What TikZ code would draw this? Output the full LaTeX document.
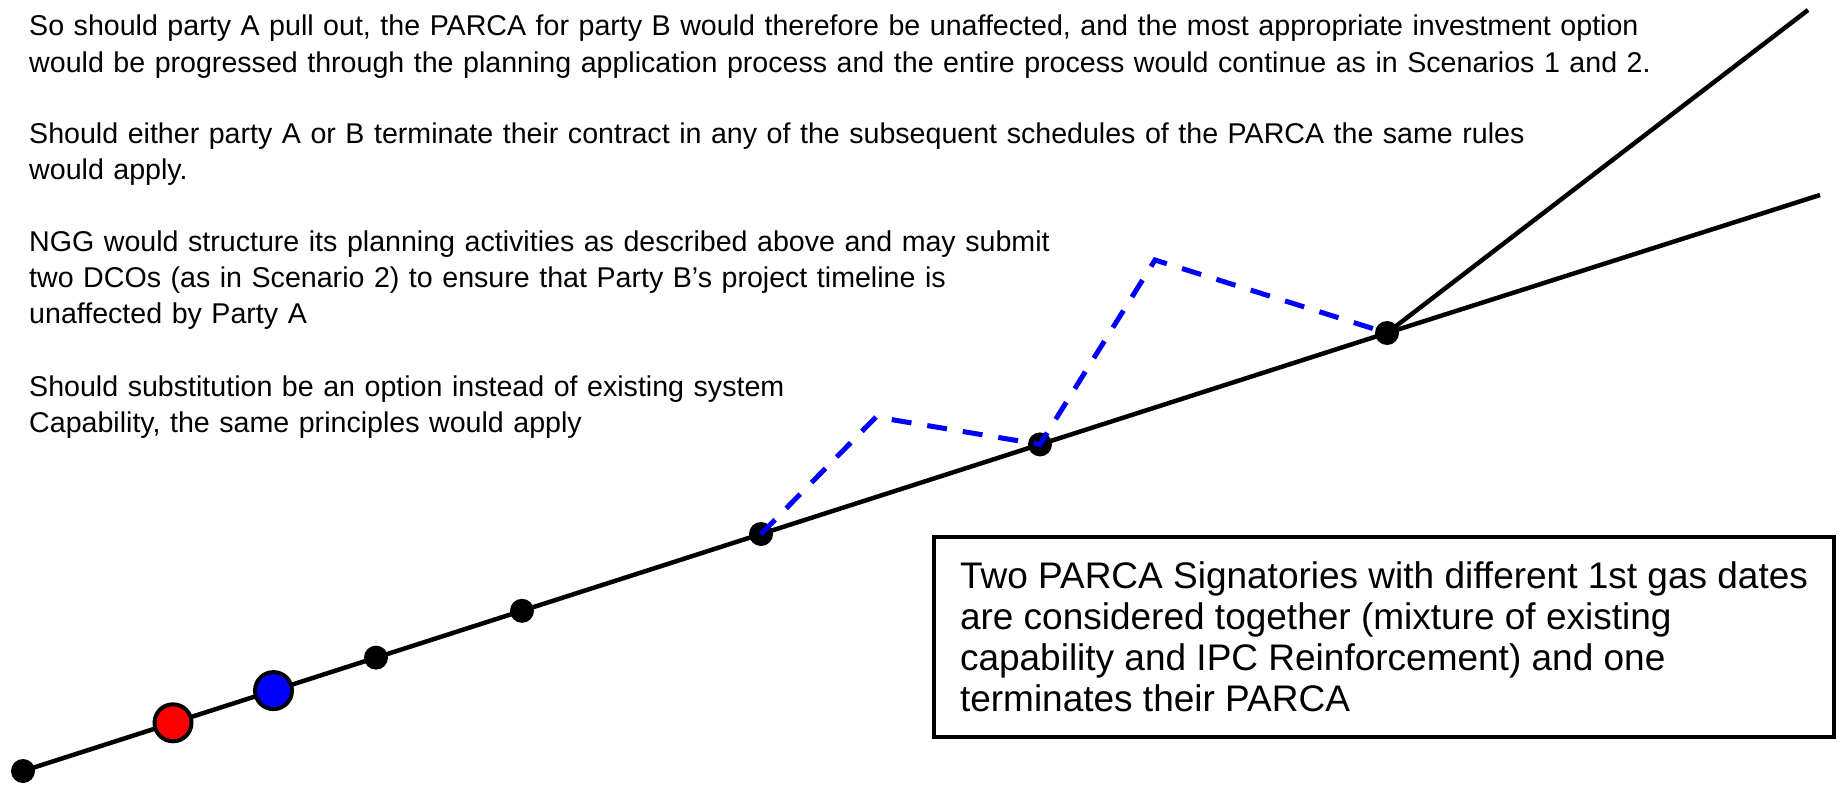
\documentclass[tikz,border=0pt]{standalone}
\usepackage{fontspec}
\setmainfont{Liberation Sans}
\usetikzlibrary{backgrounds}
\begin{document}
\begin{tikzpicture}[x=1pt,y=-1pt,
  milestone/.style={circle, fill=black, inner sep=0pt, minimum size=24pt},
  keydate/.style={circle, draw=black, line width=4pt, inner sep=0pt, minimum size=37pt},
  track/.style={line width=4.5pt},
  reroute/.style={blue, line width=5pt, dash pattern=on 20pt off 16pt, line join=miter},
  notes/.style={anchor=base west, inner sep=0pt, text width=1750pt, align=left,
    font=\fontsize{28.6}{36}\selectfont},
  notebox/.style={draw=black, line width=4pt, minimum width=900pt, minimum height=200pt,
    inner xsep=0pt, align=left, font=\fontsize{37}{41}\selectfont},
]
\useasboundingbox (0,0) rectangle (1843,784);

% timeline milestones
\node[milestone] (d0) at (23,771) {};
\node[keydate, fill=red] (ka) at (173,722.8) {};
\node[keydate, fill=blue] (kb) at (273.5,690.6) {};
\node[milestone] (d1) at (376,657.6) {};
\node[milestone] (d2) at (522,610.8) {};
\node[milestone] (d3) at (761,534) {};
\node[milestone] (d4) at (1040,444.4) {};
\node[milestone] (d5) at (1387,333) {};

\coordinate (endlow) at (1820,195);
\coordinate (endhigh) at (1808,10);
\coordinate (peak1) at (876,417);
\coordinate (peak2) at (1155,260);

% main timeline and the two branches
\begin{scope}[on background layer]
  \draw[track] (d0.center) -- (d5.center) -- (endlow);
  \draw[track] (d5.center) -- (endhigh);
\end{scope}

% alternative planning route
\draw[reroute] (d3.center) -- (peak1) -- (d4.center) -- (peak2) -- (d5.center);

% explanatory notes
\node[notes] (t1) at (29,36) {So should party A pull out, the PARCA for party B would therefore be unaffected, and the most appropriate investment option\\would be progressed through the planning application process and the entire process would continue as in Scenarios 1 and 2.};
\node[notes] (t2) at (29,143) {Should either party A or B terminate their contract in any of the subsequent schedules of the PARCA the same rules\\would apply.};
\node[notes] (t3) at (29,251) {NGG would structure its planning activities as described above and may submit\\two DCOs (as in Scenario 2) to ensure that Party B’s project timeline is\\unaffected by Party A};
\node[notes] (t4) at (29,396) {Should substitution be an option instead of existing system\\Capability, the same principles would apply};

% scenario summary
\node[notebox] (note) at (1384,636.5) {Two PARCA Signatories with different 1st gas dates\\are considered together (mixture of existing\\capability and IPC Reinforcement) and one\\terminates their PARCA};
\end{tikzpicture}
\end{document}
